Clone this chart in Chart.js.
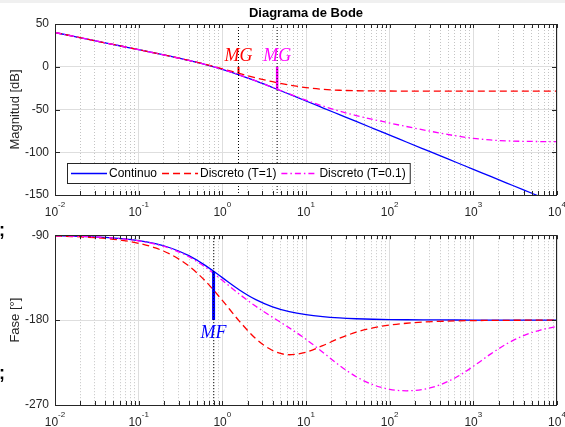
<!DOCTYPE html>
<html>
<head>
<meta charset="utf-8">
<script src="https://cdn.jsdelivr.net/npm/chart.js@4.4.1/dist/chart.umd.min.js"></script>
<style>
  html, body { margin: 0; padding: 0; background: #fff; }
  body { width: 565px; height: 427px; position: relative; overflow: hidden; }
  #strip { position: absolute; left: 0; top: 0; width: 565px; height: 3px; background: #f0f0f0; }
  canvas { position: absolute; left: 0; }
  #mag { top: 0; }
  #phase { top: 222px; }
  .frag { position: absolute; left: -1px; font: bold 18px 'Liberation Sans', Arial, sans-serif; line-height: 18px; color: #000; }
</style>
</head>
<body>
<div id="strip"></div>
<canvas id="mag" width="565" height="222"></canvas>
<canvas id="phase" width="565" height="205"></canvas>
<span class="frag" style="top:221px">;</span>
<span class="frag" style="top:364px">;</span>
<script>
// frequency points (rad/s)
const freq = [0.01, 0.01585, 0.02512, 0.03981, 0.0631, 0.1, 0.1585, 0.2512, 0.3981, 0.631,
  1, 1.585, 2.512, 3.981, 6.31, 10, 15.85, 25.12, 39.81, 63.1,
  100, 158.5, 251.2, 398.1, 631, 1000, 1585, 2512, 3981, 6310, 10000];

// magnitude [dB]
const magCont = [40.00, 36.00, 32.00, 27.99, 23.98, 19.96, 15.89, 11.73, 7.36, 2.54,
  -3.01, -9.46, -16.64, -24.27, -32.11, -40.04, -48.02, -56.01, -64.00, -72.00,
  -80.00, -88.00, -96.00, -104.00, -112.00, -120.00, -128.00, -136.00, -144.00, -152.00, -160.00];
const magT1 = [40.00, 36.00, 32.00, 27.99, 23.98, 19.96, 15.90, 11.76, 7.43, 2.76,
  -2.37, -7.77, -12.94, -17.52, -21.35, -24.34, -26.36, -27.49, -28.03, -28.27,
  -28.37, -28.41, -28.42, -28.43, -28.43, -28.43, -28.43, -28.43, -28.43, -28.43, -28.43];
const magT01 = [40.00, 36.00, 32.00, 27.99, 23.98, 19.96, 15.89, 11.74, 7.36, 2.55,
  -3.00, -9.43, -16.58, -24.10, -31.70, -39.08, -45.91, -51.90, -57.05, -61.60,
  -65.83, -69.88, -73.81, -77.56, -80.96, -83.74, -85.64, -86.72, -87.24, -87.46, -87.55];

// phase [deg]
const phaseCont = [-90.57, -90.91, -91.44, -92.28, -93.61, -95.71, -99.01, -104.10, -111.71, -122.25,
  -135.00, -147.75, -158.29, -165.90, -170.99, -174.29, -176.39, -177.72, -178.56, -179.09,
  -179.43, -179.64, -179.77, -179.86, -179.91, -179.94, -179.96, -179.98, -179.99, -179.99, -179.99];
const phaseT1 = [-90.86, -91.36, -92.16, -93.42, -95.42, -98.57, -103.52, -111.18, -122.69, -138.87,
  -159.13, -180.75, -199.63, -212.19, -216.73, -214.06, -207.06, -199.24, -192.83, -188.28,
  -185.27, -183.35, -182.11, -181.33, -180.85, -180.53, -180.34, -180.21, -180.13, -180.08, -180.05];
const phaseT01 = [-90.60, -90.95, -91.51, -92.40, -93.79, -96.00, -99.46, -104.82, -112.84, -124.05,
  -137.84, -152.23, -165.35, -176.98, -188.21, -200.38, -214.03, -227.99, -239.99, -248.49,
  -253.36, -254.93, -253.40, -248.63, -240.36, -228.99, -216.37, -205.06, -196.48, -190.58, -186.72];

const seriesNames = ['Continuo', 'Discreto (T=1)', 'Discreto (T=0.1)'];

// gain margins (red, magenta) and phase margin (blue)
const mgFreq = [1.56, 4.52];
const mgVal = [-7.7, -26.2];
const mfFreq = [0.786];
const mfVal = [-128.2];

const decades = [-2, -1, 0, 1, 2, 3, 4];

const FONT = "'Liberation Sans', Arial, Helvetica, sans-serif";
const SERIF = "'Liberation Serif', 'Times New Roman', serif";
const AXIS = '#262626';
const GRID_MAJ = '#dedede';
const GRID_MIN = '#c4c4c4';
const COLORS = ['#0000ff', '#ff0000', '#ff00ff'];
const DASHES = [[], [7, 4], [6, 3, 1.5, 3]];

Chart.defaults.font.family = FONT;
Chart.defaults.font.size = 12;
Chart.defaults.color = AXIS;

const isMajor = v => Math.abs(Math.log10(v) - Math.round(Math.log10(v))) < 1e-6;

// 1..9 x 10^n tick positions
let xTickVals = [];
decades.forEach(d => {
  for (let m = 1; m <= 9; m++) {
    const v = Number((m * Math.pow(10, d)).toPrecision(3));
    if (v <= 10000) xTickVals.push(v);
  }
});

const pts = ys => freq.map((f, i) => ({ x: f, y: ys[i] }));

function curve(i, ys) {
  return {
    label: seriesNames[i],
    data: pts(ys),
    borderColor: COLORS[i],
    borderDash: DASHES[i],
    borderWidth: 1.3,
    pointRadius: 0,
    cubicInterpolationMode: 'monotone',
    order: 3 - i
  };
}

function vline(xv, y0, y1, color, width, dash) {
  return {
    data: [{ x: xv, y: y0 }, { x: xv, y: y1 }],
    borderColor: color,
    borderWidth: width,
    borderDash: dash,
    borderCapStyle: 'butt',
    pointRadius: 0,
    order: 0
  };
}

function xScale(h) {
  return {
    type: 'logarithmic',
    min: 0.01,
    max: 10000,
    ticks: { display: false },
    grid: {
      drawTicks: false,
      color: c => (c.tick && !isMajor(c.tick.value)) ? GRID_MIN : GRID_MAJ
    },
    border: {
      display: false,
      dash: c => (c.tick && !isMajor(c.tick.value)) ? [1, 2] : []
    },
    afterBuildTicks: s => { s.ticks = xTickVals.map(v => ({ value: v })); },
    afterFit: s => { s.height = h; }
  };
}

function yScale(min, max, step) {
  return {
    min: min,
    max: max,
    ticks: { stepSize: step, padding: 6, color: AXIS, font: { size: 12 } },
    grid: { color: GRID_MAJ, drawTicks: false },
    border: { display: false },
    afterFit: s => { s.width = 55; }
  };
}

// box, inward ticks, superscript tick labels, axis titles, marker text, legend
const decor = {
  id: 'decor',
  afterDraw(chart, args, o) {
    const { ctx, chartArea: a, scales: { x, y } } = chart;
    ctx.save();
    ctx.strokeStyle = AXIS;
    ctx.lineWidth = 1;
    ctx.setLineDash([]);
    ctx.beginPath();
    x.ticks.forEach(t => {
      const px = Math.round(x.getPixelForValue(t.value)) + 0.5;
      ctx.moveTo(px, a.bottom); ctx.lineTo(px, a.bottom - 4);
      ctx.moveTo(px, a.top); ctx.lineTo(px, a.top + 4);
    });
    y.ticks.forEach(t => {
      const py = Math.round(y.getPixelForValue(t.value)) + 0.5;
      ctx.moveTo(a.left, py); ctx.lineTo(a.left + 5, py);
      ctx.moveTo(a.right, py); ctx.lineTo(a.right - 5, py);
    });
    ctx.stroke();
    ctx.strokeRect(Math.round(a.left) + 0.5, Math.round(a.top) + 0.5,
      Math.round(a.right - a.left) - 1, Math.round(a.bottom - a.top));

    // x tick labels 10^n
    ctx.fillStyle = AXIS;
    ctx.textBaseline = 'alphabetic';
    ctx.textAlign = 'left';
    x.ticks.filter(t => isMajor(t.value)).forEach(t => {
      const px = x.getPixelForValue(t.value);
      const e = String(Math.round(Math.log10(t.value)));
      ctx.font = '12px ' + FONT;
      const w1 = ctx.measureText('10').width;
      ctx.font = '8px ' + FONT;
      const w2 = ctx.measureText(e).width;
      const x0 = px - (w1 + w2) / 2;
      ctx.font = '12px ' + FONT;
      ctx.fillText('10', x0, a.bottom + 20.5);
      ctx.font = '8px ' + FONT;
      ctx.fillText(e, x0 + w1, a.bottom + 12);
    });

    // y title
    ctx.save();
    ctx.translate(15, (a.top + a.bottom) / 2);
    ctx.rotate(-Math.PI / 2);
    ctx.textAlign = 'center';
    ctx.textBaseline = 'middle';
    ctx.font = '13px ' + FONT;
    ctx.fillText(o.yTitle, 0, 0);
    ctx.restore();

    // title
    if (o.title) {
      ctx.font = 'bold 13px ' + FONT;
      ctx.textAlign = 'center';
      ctx.textBaseline = 'middle';
      ctx.fillStyle = '#000';
      ctx.fillText(o.title, (a.left + a.right) / 2, 13);
    }

    // margin labels
    ctx.font = 'italic 18px ' + SERIF;
    ctx.textAlign = 'center';
    ctx.textBaseline = 'alphabetic';
    (o.marks || []).forEach(m => {
      ctx.fillStyle = m.color;
      ctx.fillText(m.text, x.getPixelForValue(m.x), y.getPixelForValue(m.y) + m.dy);
    });

    // legend
    if (o.legend) {
      ctx.font = '12px ' + FONT;
      const left = a.left + 12, top = a.bottom - 32, h = 20;
      const items = chart.data.datasets.filter(d => d.label);
      let cx = left + 4;
      const layout = items.map(d => {
        const it = { d: d, x: cx };
        cx += 38 + ctx.measureText(d.label).width + 5;
        return it;
      });
      const right = cx - 1;
      ctx.fillStyle = '#fff';
      ctx.fillRect(left, top, right - left, h);
      ctx.strokeStyle = AXIS;
      ctx.lineWidth = 1;
      ctx.setLineDash([]);
      ctx.strokeRect(left + 0.5, top + 0.5, right - left, h);
      const my = top + h / 2 + 0.5;
      layout.forEach(it => {
        ctx.strokeStyle = it.d.borderColor;
        ctx.lineWidth = it.d.borderWidth;
        ctx.setLineDash(it.d.borderDash);
        ctx.beginPath();
        ctx.moveTo(it.x, my);
        ctx.lineTo(it.x + 36, my);
        ctx.stroke();
        ctx.fillStyle = '#000';
        ctx.textAlign = 'left';
        ctx.textBaseline = 'middle';
        ctx.fillText(it.d.label, it.x + 38, my);
      });
    }
    ctx.restore();
  }
};

const baseOpts = {
  responsive: false,
  animation: false,
  events: [],
  plugins: { legend: { display: false }, tooltip: { enabled: false } }
};

new Chart(document.getElementById('mag'), {
  type: 'line',
  plugins: [decor],
  data: {
    datasets: [
      curve(0, magCont),
      curve(1, magT1),
      curve(2, magT01),
      vline(mgFreq[0], 50, -150, '#000', 1, [1, 2]),
      vline(mgFreq[1], 50, -150, '#000', 1, [1, 2]),
      vline(mgFreq[0], 0, mgVal[0], COLORS[1], 2, []),
      vline(mgFreq[1], 0, mgVal[1], COLORS[2], 2.5, [])
    ]
  },
  options: Object.assign({}, baseOpts, {
    layout: { padding: { top: 24, right: 8, bottom: 0, left: 0 } },
    scales: { x: xScale(27), y: yScale(-150, 50, 50) },
    plugins: Object.assign({}, baseOpts.plugins, {
      decor: {
        title: 'Diagrama de Bode',
        yTitle: 'Magnitud [dB]',
        legend: true,
        marks: [
          { text: 'MG', x: mgFreq[0], y: 0, dy: -6, color: COLORS[1] },
          { text: 'MG', x: mgFreq[1], y: 0, dy: -6, color: COLORS[2] }
        ]
      }
    })
  })
});

new Chart(document.getElementById('phase'), {
  type: 'line',
  plugins: [decor],
  data: {
    datasets: [
      curve(0, phaseCont),
      curve(1, phaseT1),
      curve(2, phaseT01),
      vline(mfFreq[0], -90, -270, '#000', 1, [1, 2]),
      vline(mfFreq[0], -180, mfVal[0], COLORS[0], 3, [])
    ]
  },
  options: Object.assign({}, baseOpts, {
    layout: { padding: { top: 12, right: 8, bottom: 0, left: 0 } },
    scales: { x: xScale(22), y: yScale(-270, -90, 90) },
    plugins: Object.assign({}, baseOpts.plugins, {
      decor: {
        yTitle: 'Fase [°]',
        legend: false,
        marks: [
          { text: 'MF', x: mfFreq[0], y: -180, dy: 18, color: COLORS[0] }
        ]
      }
    })
  })
});
</script>
</body>
</html>
